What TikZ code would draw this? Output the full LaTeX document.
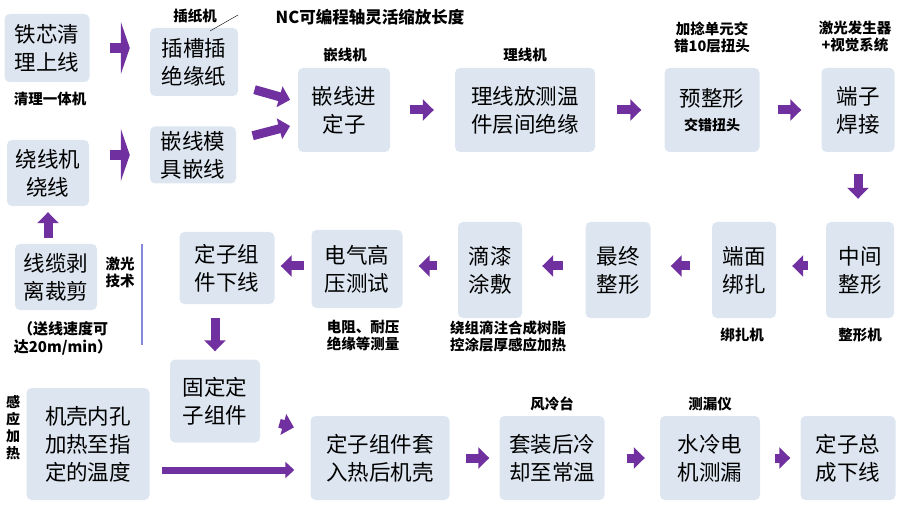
\documentclass[tikz,border=0pt]{standalone}
\usepackage{fontspec}
\setmainfont{Noto Sans CJK SC}
\usetikzlibrary{arrows.meta, positioning, calc}

\definecolor{boxfill}{HTML}{DDE6F0}
\definecolor{arrpurple}{HTML}{7030A0}

\begin{document}
\begin{tikzpicture}[
  x=1pt, y=-1pt,
  stage/.style = {fill=boxfill, rounded corners=5pt, align=center, inner sep=2pt,
                 font=\fontsize{21.5}{28}\selectfont},
  note/.style = {align=center, font=\bfseries\fontsize{14.5}{17}\selectfont},
  arrow/.style = {draw=arrpurple, line width=9pt, -{Triangle[width=21pt,length=11pt]}},
  tallarrow/.style = {draw=arrpurple, line width=10pt, -{Triangle[width=52pt,length=9pt]}},
  longarrow/.style = {draw=arrpurple, line width=7pt, -{Triangle[width=16pt,length=9pt]}}
]
  \useasboundingbox (0,0) rectangle (900,505);

  % ======================================================
  % top row
  % ======================================================
  \node[stage, minimum width=85pt, minimum height=68pt] (clean) at (47,48) {铁芯清\\理上线};
  \node[stage, minimum width=88pt, minimum height=68pt] (paper) at (194,62) {插槽插\\绝缘纸};
  \node[stage, minimum width=86pt, minimum height=57pt] (mould) at (193,155) {嵌线模\\具嵌线};
  \node[stage, minimum width=82pt, minimum height=66pt] (wind) at (48,173) {绕线机\\绕线};
  \node[stage, minimum width=92pt, minimum height=84pt] (insert) at (344,110) {嵌线进\\定子};
  \node[stage, minimum width=140pt, minimum height=84pt] (arrange) at (525,110) {理线放测温\\件层间绝缘};
  \node[stage, minimum width=95pt, minimum height=84pt] (preform) at (712,110)
    {预整形\\[-4pt]{\bfseries\fontsize{14}{16}\selectfont 交错扭头}};
  \node[stage, minimum width=73pt, minimum height=84pt] (weld) at (858,110) {端子\\焊接};

  % ======================================================
  % middle row
  % ======================================================
  \node[stage, minimum width=68pt, minimum height=96pt] (midform) at (860,270) {中间\\整形};
  \node[stage, minimum width=64pt, minimum height=96pt] (bind) at (744,270) {端面\\绑扎};
  \node[stage, minimum width=65pt, minimum height=96pt] (finalform) at (618,270) {最终\\整形};
  \node[stage, minimum width=64pt, minimum height=96pt] (varnish) at (490,270) {滴漆\\涂敷};
  \node[stage, minimum width=91pt, minimum height=78pt] (hvtest) at (357,269) {电气高\\压测试};
  \node[stage, minimum width=95pt, minimum height=72pt] (offline) at (227,268) {定子组\\件下线};
  \node[stage, minimum width=82pt, minimum height=66pt] (strip) at (56,277) {线缆剥\\离裁剪};

  % ======================================================
  % bottom row
  % ======================================================
  \node[stage, minimum width=90pt, minimum height=83pt] (fix) at (215,401) {固定定\\子组件};
  \node[stage, minimum width=123pt, minimum height=112pt] (heat) at (88,444) {机壳内孔\\加热至指\\定的温度};
  \node[stage, minimum width=139pt, minimum height=84pt] (fit) at (380,458) {定子组件套\\入热后机壳};
  \node[stage, minimum width=105pt, minimum height=84pt] (cool) at (552,458) {套装后冷\\却至常温};
  \node[stage, minimum width=100pt, minimum height=84pt] (leak) at (710,458) {水冷电\\机测漏};
  \node[stage, minimum width=95pt, minimum height=84pt] (done) at (848,458) {定子总\\成下线};

  % notes
  \node[note] (n_clean) at (50,99) {清理一体机};
  \node[note] (n_paper) at (195,16) {插纸机};
  \node[note, font=\bfseries\fontsize{16.5}{18}\selectfont] (n_nc) at (370,17) {NC可编程轴灵活缩放长度};
  \coordinate (nc_tip) at (210,31);
  \draw (nc_tip) -- (238,15);
  \node[note] (n_insert) at (345,55) {嵌线机};
  \node[note] (n_arrange) at (525,55) {理线机};
  \node[note] (n_preform) at (712,37) {加捻单元交\\错10层扭头};
  \node[note] (n_weld) at (855,37) {激光发生器\\+视觉系统};
  \node[note] (n_bind) at (742,335) {绑扎机};
  \node[note] (n_midform) at (860,335) {整形机};
  \node[note] (n_varnish) at (508,336) {绕组滴注合成树脂\\控涂层厚感应加热};
  \node[note] (n_hvtest) at (363,336) {电阻、耐压\\绝缘等测量};
  \node[note] (n_laser) at (120,272) {激光\\技术};
  \draw[black!15!boxfill!70!blue, line width=1.5pt] (142,244) -- (142,345);
  \node[note, font=\bfseries\fontsize{15}{18}\selectfont] (n_strip) at (63,338) {（送线速度可\\达20m/min）};
  \node[note, font=\bfseries\fontsize{14}{17}\selectfont] (n_heat) at (13,428) {感\\应\\加\\热};
  \node[note] (n_cool) at (552,404) {风冷台};
  \node[note] (n_leak) at (710,404) {测漏仪};

  % ======================================================
  % arrows
  % ======================================================
  \draw[tallarrow, shorten <=20pt, shorten >=20pt] (clean.east) -- (paper.west |- clean.east);
  \draw[tallarrow, shorten <=21pt, shorten >=20pt] (wind.east |- mould.west) -- (mould.west);
  \draw[arrow, shorten <=17pt, shorten >=8pt] (paper.east |- 0,85) -- (insert.west |- 0,102);
  \draw[arrow, shorten <=17pt, shorten >=8pt] (mould.east |- 0,140) -- (insert.west |- 0,124);
  \draw[arrow, shorten <=20pt, shorten >=21pt] (insert) -- (arrange);
  \draw[arrow, shorten <=22pt, shorten >=23pt] (arrange) -- (preform);
  \draw[arrow, shorten <=18pt, shorten >=20pt] (preform) -- (weld);
  \draw[arrow, shorten <=22pt, shorten >=23pt] (weld.south) -- (weld.south |- midform.north);
  \draw[arrow, shorten <=18pt, shorten >=16pt] (midform.west |- 0,266) -- (bind.east |- 0,266);
  \draw[arrow, shorten <=22pt, shorten >=20pt] (bind.west |- 0,266) -- (finalform.east |- 0,266);
  \draw[arrow, shorten <=22pt, shorten >=20pt] (finalform.west |- 0,266) -- (varnish.east |- 0,266);
  \draw[arrow, shorten <=21pt, shorten >=16pt] (varnish.west |- 0,266) -- (hvtest.east |- 0,266);
  \draw[arrow, shorten <=7pt, shorten >=6pt] (hvtest.west |- 0,266) -- (offline.east |- 0,266);
  \draw[arrow, shorten <=14pt, shorten >=8pt] (offline.south -| fix.north) -- (fix.north);
  \draw[arrow, shorten <=6pt, shorten >=6pt] (strip.north -| wind.south) -- (wind.south);
  \draw[arrow, shorten <=20pt, shorten >=17pt] (fix.east |- 0,418) -- (fit.west |- 0,432);
  \draw[longarrow, shorten <=12pt, shorten >=16pt] (heat.east |- 0,470) -- (fit.west |- 0,470);
  \draw[arrow, shorten <=16pt, shorten >=10pt] (fit) -- (cool);
  \draw[arrow, shorten <=22pt, shorten >=15pt] (cool) -- (leak);
  \draw[arrow, shorten <=15pt, shorten >=10pt] (leak) -- (done);
\end{tikzpicture}
\end{document}
